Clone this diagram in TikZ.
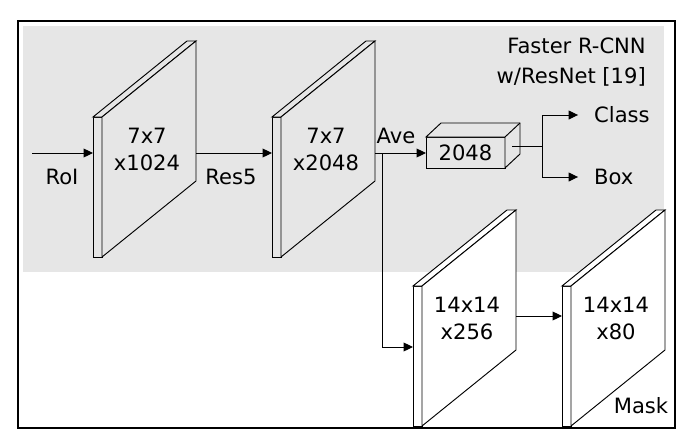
\documentclass[tikz,border=0pt]{standalone}
\usepackage{fontspec}
\setmainfont{DejaVu Sans}
\usepackage{tikz}
\usetikzlibrary{arrows.meta, positioning}
\definecolor{panelgray}{RGB}{230, 230, 230}

% one feature-map slab: name, x, y (front top-left corner), fill, text
\newcommand{\slab}[5]{%
  \begin{scope}[shift={(#2,#3)}]
    \filldraw[slabline, fill=#4] (0,0) rectangle (9,140);
    \filldraw[slabline, fill=#4] (0,0) -- (94,-76) -- (103,-76) -- (9,0) -- cycle;
    \filldraw[slabline, fill=#4] (9,0) -- (103,-76) -- (103,64) -- (9,140) -- cycle;
    \coordinate (#1-w) at (0,70);
    \coordinate (#1-e) at (103,0);
    \node[txt] (#1) at (54,32) {#5};
  \end{scope}}

\begin{document}
\begin{tikzpicture}[
  x=0.03cm, y=-0.03cm,
  every node/.style={font=\fontsize{18}{23}\selectfont},
  txt/.style={align=center, inner sep=0pt},
  lbl/.style={inner sep=0pt},
  slabline/.style={draw=black, line width=0.8pt, line join=miter},
  featbox/.style={rectangle, draw, line width=0.8pt, fill=panelgray, minimum width=2.37cm, minimum height=0.93cm, inner sep=0pt, outer sep=0pt},
  arrow/.style={-{Triangle[length=8pt, width=7.5pt]}, line width=0.8pt},
]
  \useasboundingbox (0,0) rectangle (691,445);
  \fill[white] (0,0) rectangle (691,445);
  \fill[panelgray] (23,26) rectangle (664,272);
  \draw[line width=1.9pt] (18,21) rectangle (675,428);

  % head title
  \node[lbl, anchor=east, align=right] (title) at (646,62) {Faster R-CNN\\[3pt]w/ResNet [19]};

  % slabs
  \slab{res4}{93}{117}{panelgray}{7x7\\x1024}
  \slab{res5}{272}{117}{panelgray}{7x7\\x2048}
  \slab{conv}{413}{286}{white}{14x14\\x256}
  \slab{mask}{562}{286}{white}{14x14\\x80}

  % RoI input
  \coordinate (roi) at (32,153);
  \draw[arrow] (roi) -- (roi -| res4-w);
  \node[lbl] (roilbl) at (62,177) {RoI};
  \draw[arrow] (roi -| res4-e) -- (roi -| res5-w);
  \node[lbl] (res5lbl) at (231,177) {Res5};

  % pooled feature box
  \node[featbox] (feat) at (465.5,152.5) {2048};
  \draw[line width=0.8pt, fill=panelgray] (feat.north west) -- ++(15,-14) -- ++(79,0) -- ++(0,31) -- (feat.south east) -- (feat.north east) -- cycle;
  \draw[line width=0.8pt] (feat.north east) -- ++(15,-14);
  \draw[arrow] (roi -| res5-e) -- (roi -| feat.west);
  \node[lbl] (avelbl) at (396,136) {Ave};

  % class and box outputs
  \coordinate (out) at (512,146);
  \coordinate (fork) at (542,146);
  \draw[line width=0.8pt] (out) -- (fork);
  \node[lbl, anchor=west] (cls) at (594,115) {Class};
  \node[lbl, anchor=west] (bbox) at (594,177) {Box};
  \draw[arrow] (fork) |- ([xshift=-13.6pt]cls.west);
  \draw[arrow] (fork) |- ([xshift=-13.6pt]bbox.west);

  % mask branch
  \coordinate (split) at (382,153);
  \coordinate (bend) at (382,347);
  \draw[arrow] (split) -- (bend) -- (bend -| conv-w);
  \coordinate (mid) at (516,316);
  \draw[arrow] (mid) -- (mid -| mask-w);
  \node[lbl] (masklbl) at (641,406) {Mask};
\end{tikzpicture}
\end{document}
